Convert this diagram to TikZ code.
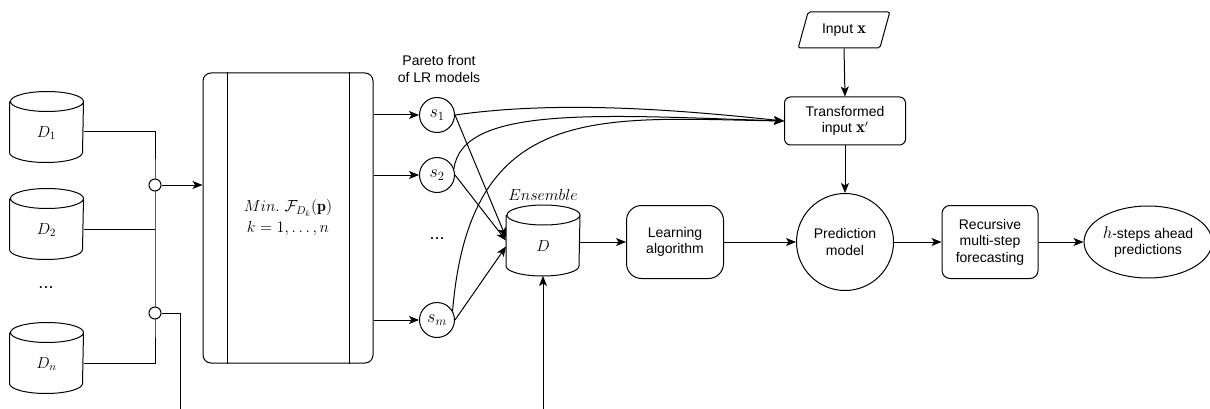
\RequirePackage{fix-cm}
\documentclass[tikz,border=0pt]{standalone}
\usepackage{amsmath}
\usepackage{fontspec}
\newfontfamily\labelfont{Liberation Sans}
\usetikzlibrary{shapes.geometric,arrows.meta,calc}

\newcommand\vecx{{\fontsize{17}{17}\selectfont$\mathbf{x}$}}

\tikzset{
  txt/.style={font=\labelfont\fontsize{14}{16.5}\selectfont, align=center},
  mth/.style={font=\fontsize{16}{19}\selectfont},
  dots/.style={font=\labelfont\fontsize{18}{18}\selectfont},
  % data store: the node is the body box, the outline is drawn afterwards
  db/.style={rectangle, minimum width=73pt, minimum height=70pt, inner sep=0pt,
    text height=23pt, text depth=2pt, mth},
  junction/.style={draw, circle, fill=white, minimum size=12pt, inner sep=0pt},
  model/.style={draw, circle, minimum size=35pt, inner sep=0pt, font=\fontsize{18}{18}\selectfont},
  roundbox/.style={draw, rounded corners=#1, txt, inner sep=2pt},
  arr/.style={-{Stealth[length=10pt,width=8pt,inset=2.5pt]}},
}

\begin{document}
\begin{tikzpicture}[x=1pt,y=-1pt,line width=1pt]
\useasboundingbox (0,0) rectangle (1210,409);

% data sets
\node[db] (d1) at (46.5,127) {$D_1$};
\node[db] (d2) at (46.5,224) {$D_2$};
\node[dots] (ddots) at (46,288) {...};
\node[db] (dn) at (46.5,358) {$D_n$};
\node[db] (ens) at (543,240.5) {$D$};

% cylinder outlines of the data stores
\foreach \n in {d1,d2,dn,ens}
  \draw ([yshift=-10pt]\n.north west) -- ([yshift=10pt]\n.south west)
    arc[start angle=180, end angle=360, x radius=36.5pt, y radius=10pt]
    -- ([yshift=-10pt]\n.north east)
    arc[start angle=0, end angle=360, x radius=36.5pt, y radius=10pt];

% optimisation block
\node[draw, rounded corners=8pt, minimum width=170pt, minimum height=290pt] (opt) at (288,218) {};
\draw ([xshift=25pt]opt.north west) -- ([xshift=25pt]opt.south west);
\draw ([xshift=-24pt]opt.north east) -- ([xshift=-24pt]opt.south east);
\node[mth, align=center] (opttext) at (288,218) {$Min.\ \mathcal{F}_{D_k}(\mathbf{p})$\\[2pt]$k=1,\ldots,n$};

% trunk joining the data sets
\coordinate (t1) at (155,185);
\coordinate (t2) at (155,313);
\draw ([yshift=-5pt]d1.east) -| (t1) -- (t2) |- ([yshift=-5pt]dn.east);
\draw ([yshift=-5pt]d2.east) -- ([yshift=-5pt]d2.east -| t1);
\node[junction] (j1) at (t1) {};
\node[junction] (j2) at (t2) {};
\coordinate (jout) at (180,409);
\draw[arr] (j1.east) -- (j1.east -| opt.west);
\draw (j2.east) -| (jout);

% Pareto front models
\node[txt] (pareto) at (439,69) {Pareto front\\of LR models};
\node[model] (s1) at (437,115) {$s_1$};
\node[model] (s2) at (437,175) {$s_2$};
\node[dots] (sdots) at (437,239) {...};
\node[model] (sm) at (437,320) {$s_m$};
\draw[arr] (opt.east |- s1) -- (s1);
\draw[arr] (opt.east |- s2) -- (s2);
\draw[arr] (opt.east |- sm) -- (sm);

% ensemble data set
\node[mth] (enslabel) at (543,195) {$Ensemble$};
\coordinate (ensin) at (543,409);
\draw[arr] (ensin) -- (ens.south);
\draw[arr] (s1.east) -- ([yshift=3pt]ens.west);
\draw[arr] (s2.east) -- (ens.west);
\draw[arr] (sm.east) -- ([yshift=-6pt]ens.west);

% input and transformation
\node[draw, trapezium, trapezium left angle=70, trapezium right angle=110,
  trapezium stretches=true, minimum width=92pt, minimum height=36pt,
  rounded corners=2pt, txt] (inx) at (844,30) {Input \vecx};
\node[roundbox=6pt, minimum width=121pt, minimum height=48pt] (tx) at (845,121) {Transformed\\input \vecx$'$};
\draw[arr] (inx.south) -- (tx.north);

\draw[arr] (s1.east) .. controls (560,100) and (680,110) .. (tx.west);
\draw[arr] (s2.20) .. controls (462,105) and (600,115) .. (tx.west);
\draw[arr] (sm.30) .. controls (470,100) and (600,118) .. (tx.west);

% learning and prediction chain
\node[roundbox=15pt, minimum width=97pt, minimum height=73pt] (learn) at (675,242) {Learning\\algorithm};
\node[draw, circle, minimum size=97pt, inner sep=0pt, txt] (pred) at (845,242) {Prediction\\model};
\node[roundbox=8pt, minimum width=96pt, minimum height=73pt] (rec) at (990,242) {Recursive\\multi-step\\forecasting};
\node[draw, ellipse, minimum width=120pt, minimum height=72pt, inner sep=0pt, txt] (hsteps) at (1148,242) {{\fontsize{17}{17}\selectfont$h$}-steps ahead\\predictions};

\draw[arr] (tx.south) -- (pred.north);
\draw[arr] (ens.east |- learn) -- (learn.west);
\draw[arr] (learn.east) -- (pred.west);
\draw[arr] (pred.east) -- (rec.west);
\draw[arr] (rec.east) -- (hsteps.west);
\end{tikzpicture}
\end{document}
